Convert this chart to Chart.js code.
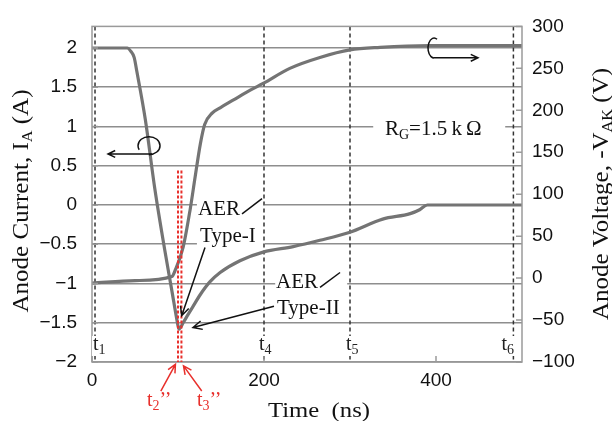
<!DOCTYPE html>
<html>
<head>
<meta charset="utf-8">
<script src="https://cdn.jsdelivr.net/npm/chart.js@4.4.1/dist/chart.umd.min.js"></script>
<style>
  html, body { margin: 0; background: #fff; }
  #wrap { width: 612px; height: 421px; }
</style>
</head>
<body>
<div id="wrap"><canvas id="chart" width="612" height="421"></canvas></div>
<script>
"use strict";

// anode current (A)
const timeCurrent = [0, 41, 45, 49, 52, 62, 73, 85, 93, 99, 101, 106, 112, 117, 126, 137, 149, 172, 199, 234, 265, 299, 338, 370, 381, 390, 500];
const current = [2, 2, 1.96, 1.88, 1.71, 1.09, 0.21, -0.6, -1.1, -1.48, -1.58, -1.5, -1.39, -1.3, -1.14, -0.98, -0.86, -0.71, -0.6, -0.53, -0.45, -0.35, -0.18, -0.11, -0.06, 0, 0];

// anode voltage -VAK (V)
const timeVoltage = [0, 50, 93, 97, 106, 114, 120, 126, 131, 140, 149, 164, 184, 199, 230, 265, 300, 335, 393, 500];
const voltage = [-6, -3, 2, 10, 37, 81, 121, 160, 183, 197, 203, 212, 224, 232, 250, 263, 272, 275, 277, 277];

// ticks
const xTicks = [0, 200, 400];
const currentTicks = [-2, -1.5, -1, -0.5, 0, 0.5, 1, 1.5, 2];
const voltageTicks = [-100, -50, 0, 50, 100, 150, 200, 250, 300];

// time markers
const markerTimes = [3.5, 200, 300, 490];
const markerNames = ["1", "4", "5", "6"];
const redTimes = [100, 104];
const redNames = ["2", "3"];

const SERIF = '"Liberation Serif", "Times New Roman", serif';
const SANS = '"Liberation Sans", Arial, sans-serif';
const RED = "#e8302c";

function T(text, size, dy) { return { text: text, size: size, dy: dy || 0 }; }

function richWidth(ctx, parts) {
  let w = 0;
  parts.forEach(function (p) {
    ctx.font = p.size + "px " + SERIF;
    w += ctx.measureText(p.text).width;
  });
  return w;
}

function richDraw(ctx, parts, x, y) {
  parts.forEach(function (p) {
    ctx.font = p.size + "px " + SERIF;
    ctx.fillText(p.text, x, y + p.dy);
    x += ctx.measureText(p.text).width;
  });
  return x;
}

// text stretched to a given length, centred on (cx, cy)
function drawFit(ctx, parts, cx, cy, len, rot, color) {
  ctx.save();
  ctx.translate(cx, cy);
  if (rot) ctx.rotate(rot);
  const w = richWidth(ctx, parts);
  ctx.scale(len / w, 1);
  ctx.fillStyle = color || "#111";
  ctx.textBaseline = "alphabetic";
  richDraw(ctx, parts, -w / 2, parts[0].size * 0.33);
  ctx.restore();
}

function arrow(ctx, x1, y1, x2, y2, head) {
  const a = Math.atan2(y2 - y1, x2 - x1);
  ctx.beginPath();
  ctx.moveTo(x1, y1);
  ctx.lineTo(x2, y2);
  ctx.moveTo(x2 - head * Math.cos(a - 0.45), y2 - head * Math.sin(a - 0.45));
  ctx.lineTo(x2, y2);
  ctx.lineTo(x2 - head * Math.cos(a + 0.45), y2 - head * Math.sin(a + 0.45));
  ctx.stroke();
}

const overlay = {
  id: "overlay",
  beforeDatasetsDraw(chart) {
    const ctx = chart.ctx, a = chart.chartArea, x = chart.scales.x, y = chart.scales.y;
    const X = function (t) { return x.getPixelForValue(t); };
    const Y = function (v) { return y.getPixelForValue(v); };
    ctx.save();
    // white boxes behind the notes, over the grid
    ctx.fillStyle = "#fff";
    ctx.fillRect(X(122), Y(0.12), 68, 56);
    ctx.fillRect(X(213), Y(-0.85), 72, 50);
    ctx.fillRect(X(327), Y(1.12), 132, 24);

    ctx.strokeStyle = "#333";
    ctx.lineWidth = 1.5;
    ctx.setLineDash([4, 3]);
    markerTimes.forEach(function (t) {
      const px = X(t);
      ctx.beginPath();
      ctx.moveTo(px, a.top);
      ctx.lineTo(px, a.bottom);
      ctx.stroke();
    });
    ctx.restore();
  },
  afterDatasetsDraw(chart) {
    const ctx = chart.ctx, a = chart.chartArea;
    const x = chart.scales.x, y = chart.scales.y, y1 = chart.scales.y1;
    const X = function (t) { return x.getPixelForValue(t); };
    const Y = function (v) { return y.getPixelForValue(v); };

    ctx.save();

    // frame and inward ticks
    ctx.strokeStyle = "#9a9a9a";
    ctx.lineWidth = 1.5;
    ctx.strokeRect(a.left, a.top, a.width, a.height);
    ctx.beginPath();
    voltageTicks.forEach(function (v) {
      const py = y1.getPixelForValue(v);
      ctx.moveTo(a.right - 6, py);
      ctx.lineTo(a.right, py);
    });
    currentTicks.forEach(function (v) {
      ctx.moveTo(a.left, Y(v));
      ctx.lineTo(a.left + 6, Y(v));
    });
    xTicks.forEach(function (t) {
      ctx.moveTo(X(t), a.bottom);
      ctx.lineTo(X(t), a.bottom - 6);
    });
    ctx.stroke();

    // x tick labels
    ctx.fillStyle = "#111";
    ctx.font = "19px " + SANS;
    ctx.textAlign = "center";
    ctx.textBaseline = "middle";
    xTicks.forEach(function (t) { ctx.fillText(String(t), X(t), a.bottom + 19); });
    ctx.textAlign = "left";
    ctx.textBaseline = "alphabetic";

    // red dashed t2'' t3''
    ctx.strokeStyle = RED;
    ctx.lineWidth = 2;
    ctx.setLineDash([3, 2]);
    redTimes.forEach(function (t) {
      ctx.beginPath();
      ctx.moveTo(X(t), Y(0.44));
      ctx.lineTo(X(t), a.bottom);
      ctx.stroke();
    });
    ctx.setLineDash([]);

    // t labels on black markers
    const offs = [-2, -5, -4, -12];
    markerTimes.forEach(function (t, i) {
      const parts = [T("t", 20), T(markerNames[i], 14, 4)];
      const w = richWidth(ctx, parts);
      const lx = X(t) + offs[i];
      ctx.fillStyle = "#fff";
      ctx.fillRect(lx - 1, 336, w + 2, 20);
      ctx.fillStyle = "#222";
      richDraw(ctx, parts, lx, 350);
    });

    // red labels and arrows under the axis
    ctx.fillStyle = RED;
    ctx.strokeStyle = RED;
    ctx.lineWidth = 1.5;
    richDraw(ctx, [T("t", 20), T(redNames[0], 14, 4), T("\u2019\u2019", 20)], X(64), Y(-2.56));
    richDraw(ctx, [T("t", 20), T(redNames[1], 14, 4), T("\u2019\u2019", 20)], X(122), Y(-2.56));
    arrow(ctx, X(80), Y(-2.37), X(97), Y(-2.03), 9);
    arrow(ctx, X(127.6), Y(-2.37), X(106.4), Y(-2.05), 9);

    // AER annotations
    ctx.fillStyle = "#111";
    ctx.strokeStyle = "#111";
    ctx.lineWidth = 1.5;
    const e1 = richDraw(ctx, [T("AER", 21)], X(123.3), Y(-0.125));
    richDraw(ctx, [T("Type-I", 21)], X(125.6), Y(-0.475));
    ctx.beginPath();
    ctx.moveTo(e1 + 2, Y(-0.125) - 1); ctx.lineTo(e1 + 22, Y(0.08));
    ctx.stroke();
    arrow(ctx, X(131.4), Y(-0.54), X(104.3), Y(-1.41), 10);

    const e2 = richDraw(ctx, [T("AER", 21)], X(214), Y(-1.0625));
    richDraw(ctx, [T("Type-II", 21)], X(215.1), Y(-1.3875));
    ctx.beginPath();
    ctx.moveTo(e2 + 2, Y(-1.0625) - 1); ctx.lineTo(e2 + 22, Y(-0.86));
    ctx.stroke();
    arrow(ctx, X(211.6), Y(-1.29), X(117.4), Y(-1.56), 10);

    // RG label
    richDraw(ctx, [T("R", 21), T("G", 14, 4), T("=1.5", 21), T("\u2009k\u2009\u03a9", 21)], X(340.7), Y(0.89));

    // current marker: loop + arrow to the left
    ctx.beginPath();
    ctx.ellipse(X(66.3), Y(0.756), 11, 9, 0, Math.PI / 2, Math.PI * 0.85, true);
    ctx.stroke();
    arrow(ctx, X(69.8), Y(0.65), X(18.6), Y(0.65), 8);

    // voltage marker: C + arrow to the right
    ctx.beginPath();
    ctx.ellipse(X(397.7), Y(2.0), 6, 10, 0, -Math.PI / 3, Math.PI / 2, true);
    ctx.stroke();
    arrow(ctx, X(397.7), Y(1.875), X(448.8), Y(1.875), 8);

    // axis titles
    drawFit(ctx, [T("Anode Current, I", 23), T("A", 15, 4), T(" (A)", 23)], 20, 201, 223, -Math.PI / 2);
    drawFit(ctx, [T("Anode Voltage, -V", 23), T("AK", 15, 4), T(" (V)", 23)], 600, 194, 252, -Math.PI / 2);
    drawFit(ctx, [T("Time  (ns)", 22)], 319, 410, 102, 0);

    ctx.restore();
  }
};

const tickFont = { family: SANS, size: 19 };
const fmt = function (v) { return String(v).replace("-", "\u2212"); };

new Chart(document.getElementById("chart"), {
  type: "line",
  data: {
    datasets: [
      {
        label: "Anode current",
        data: timeCurrent.map(function (t, i) { return { x: t, y: current[i] }; }),
        yAxisID: "y",
        borderColor: "#747474",
        borderWidth: 3.2,
        pointRadius: 0,
        cubicInterpolationMode: "monotone"
      },
      {
        label: "Anode voltage",
        data: timeVoltage.map(function (t, i) { return { x: t, y: voltage[i] }; }),
        yAxisID: "y1",
        borderColor: "#747474",
        borderWidth: 3.2,
        pointRadius: 0,
        cubicInterpolationMode: "monotone"
      }
    ]
  },
  options: {
    responsive: false,
    animation: false,
    events: [],
    layout: { padding: { top: 20, left: 0, right: 0, bottom: 0 } },
    plugins: { legend: { display: false }, tooltip: { enabled: false } },
    scales: {
      x: {
        type: "linear", min: 0, max: 500,
        afterBuildTicks: function (s) { s.ticks = xTicks.map(function (v) { return { value: v }; }); },
        afterFit: function (s) { s.height = 59; },
        grid: { display: false, drawTicks: false },
        border: { display: false },
        ticks: { display: false }
      },
      y: {
        position: "left", min: -2, max: 2.275,
        afterBuildTicks: function (s) { s.ticks = currentTicks.map(function (v) { return { value: v }; }); },
        afterFit: function (s) { s.width = 92; },
        grid: { color: "#8e8e8e", lineWidth: 1.5, drawTicks: false },
        border: { display: false },
        ticks: { font: tickFont, color: "#111", padding: 15, callback: fmt }
      },
      y1: {
        position: "right", min: -100, max: 300,
        afterBuildTicks: function (s) { s.ticks = voltageTicks.map(function (v) { return { value: v }; }); },
        afterFit: function (s) { s.width = 90; },
        grid: { drawOnChartArea: false, drawTicks: false },
        border: { display: false },
        ticks: { font: tickFont, color: "#111", padding: 10, callback: fmt }
      }
    }
  },
  plugins: [overlay]
});
</script>
</body>
</html>
